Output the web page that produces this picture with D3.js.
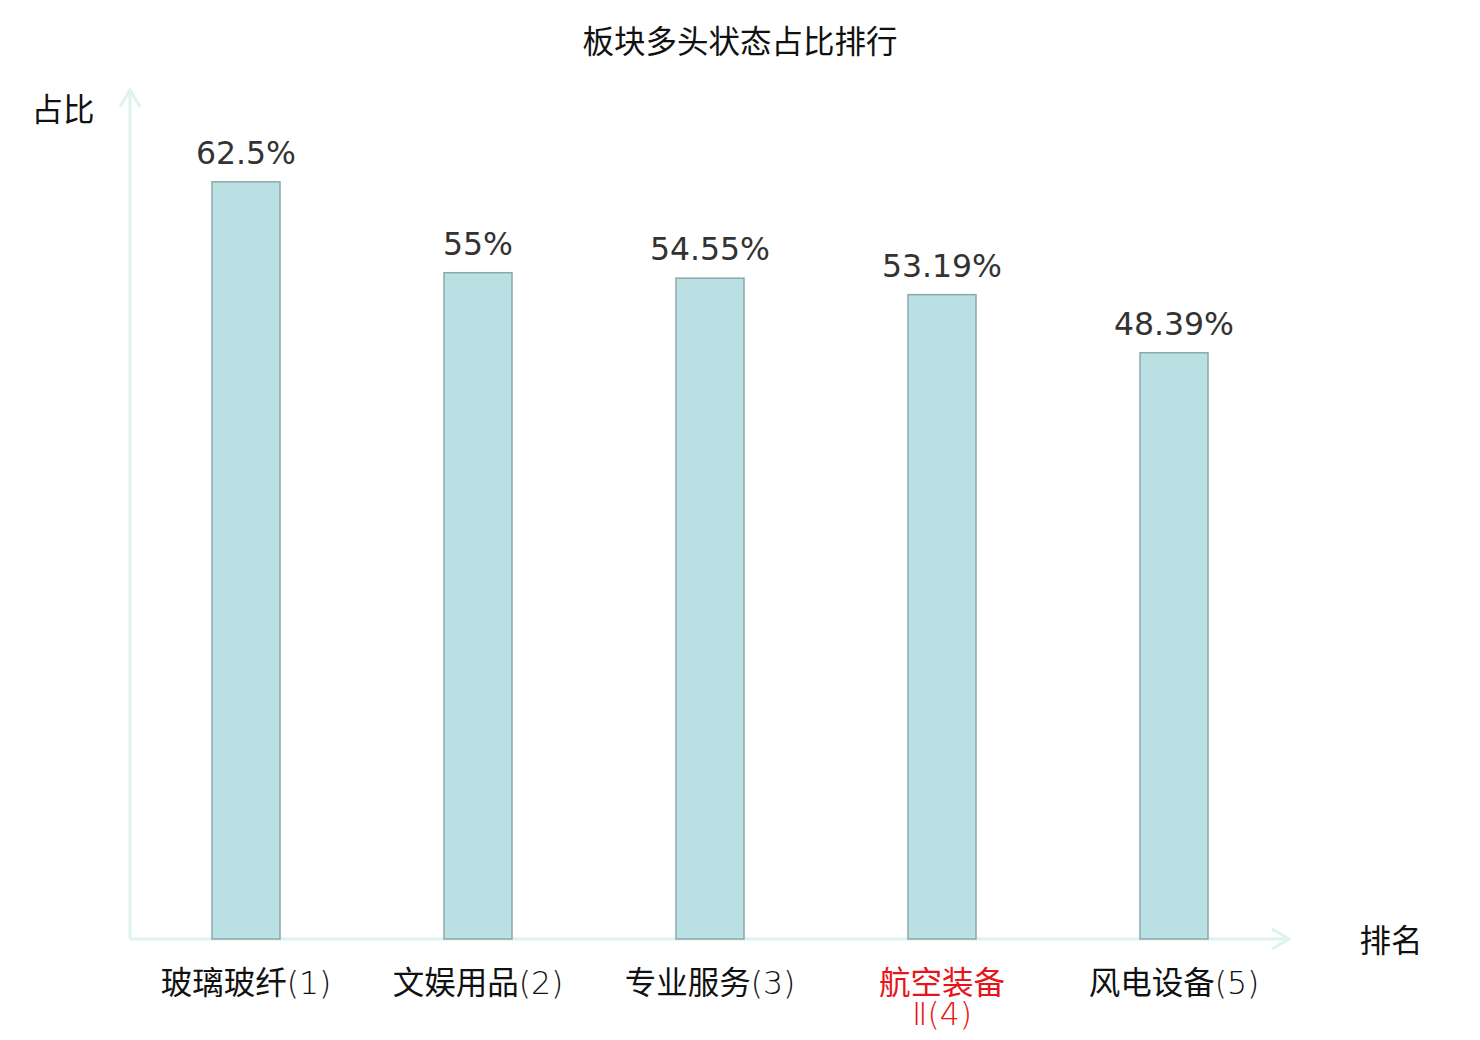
<!DOCTYPE html>
<html><head><meta charset="utf-8">
<script src="https://cdn.jsdelivr.net/npm/d3@7/dist/d3.min.js"></script>
<style>body{margin:0;background:#fff}svg{display:block}</style>
</head><body><svg id="c" width="1480" height="1040"></svg>
<script>
const categories = ["玻璃玻纤(1)", "文娱用品(2)", "专业服务(3)", "航空装备Ⅱ(4)", "风电设备(5)"];
const values = [62.5, 55, 54.55, 53.19, 48.39];
const valueLabels = ["62.5%", "55%", "54.55%", "53.19%", "48.39%"];
const highlighted = [false, false, false, true, false];

const svg = d3.select("#c");
const x0 = 130, x1 = 1290, yb = 939, yt = 91;
const x = d3.scaleBand().domain(categories).range([x0, x1]);
const y = d3.scaleLinear().domain([0, 70]).range([yb, yt]);
const bw = 68;
const axisColor = "#def3f0";
const cjk = "'Noto Sans CJK SC'";
const fs = 31.5;

svg.append("text").attr("x", 740).attr("y", 53).attr("text-anchor", "middle")
  .attr("font-family", cjk).attr("font-size", fs).attr("fill", "#111").text("板块多头状态占比排行");

// axes
svg.append("line").attr("x1", x0).attr("x2", x0).attr("y1", yb).attr("y2", 90)
  .attr("stroke", axisColor).attr("stroke-width", 3);
svg.append("path").attr("d", `M${x0-10},${107} L${x0},${90} L${x0+10},${107}`)
  .attr("fill", "none").attr("stroke", axisColor).attr("stroke-width", 3);
svg.append("line").attr("x1", x0).attr("x2", 1289).attr("y1", yb).attr("y2", yb)
  .attr("stroke", axisColor).attr("stroke-width", 3);
svg.append("path").attr("d", `M${1272},${929} L${1289},${yb} L${1272},${949}`)
  .attr("fill", "none").attr("stroke", axisColor).attr("stroke-width", 3);

svg.append("text").attr("x", 63).attr("y", 121).attr("text-anchor", "middle")
  .attr("font-family", cjk).attr("font-size", fs).attr("fill", "#111").text("占比");
svg.append("text").attr("x", 1391).attr("y", 952).attr("text-anchor", "middle")
  .attr("font-family", cjk).attr("font-size", fs).attr("fill", "#111").text("排名");

// bars
svg.selectAll("rect.bar").data(values).join("rect").attr("class", "bar")
  .attr("x", (d, i) => x(categories[i]) + x.bandwidth() / 2 - bw / 2)
  .attr("y", d => y(d)).attr("width", bw).attr("height", d => yb - y(d))
  .attr("fill", "#bbe0e3").attr("stroke", "#8aa8a9").attr("stroke-width", 1.5);

svg.selectAll("text.val").data(values).join("text").attr("class", "val")
  .attr("x", (d, i) => x(categories[i]) + x.bandwidth() / 2)
  .attr("y", d => y(d) - 18).attr("text-anchor", "middle")
  .attr("font-family", "'DejaVu Sans'").attr("font-size", fs).attr("fill", "#333")
  .text((d, i) => valueLabels[i]);

// category labels
categories.forEach((c, i) => {
  const cx = x(c) + x.bandwidth() / 2;
  const t = svg.append("text").attr("x", cx).attr("y", 994).attr("text-anchor", "middle")
    .attr("font-family", cjk).attr("font-size", fs)
    .attr("fill", highlighted[i] ? "#e8141a" : "#111");
  const m = c.match(/^(.*?)(\(\d\))$/);
  let main = m[1], suf = m[2];
  const light = sel => sel.attr("font-family", "'DejaVu Sans'").attr("font-weight", 200);
  if (main.length > 4) {
    t.append("tspan").attr("x", cx).text(main.slice(0, 4));
    const t2 = t.append("tspan").attr("x", cx).attr("dy", 31);
    light(t2).text(main.slice(4) + suf);
  } else {
    t.append("tspan").text(main);
    light(t.append("tspan")).text(suf);
  }
});
</script></body></html>
